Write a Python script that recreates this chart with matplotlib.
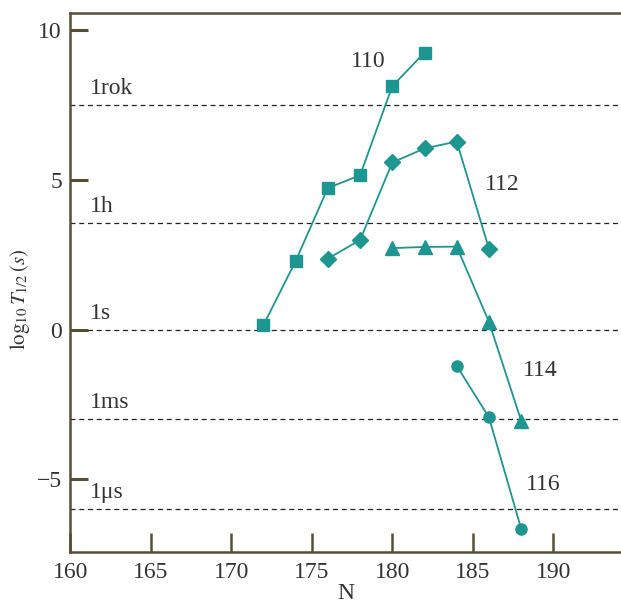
import matplotlib
matplotlib.use("Agg")
from matplotlib import pyplot as plt

# half-lives of superheavy isotopes, log10(T1/2 / s) vs neutron number N
n_110 = [172, 174, 176, 178, 180, 182]
t_110 = [0.15, 2.29, 4.73, 5.15, 8.13, 9.25]

n_112 = [176, 178, 180, 182, 184, 186]
t_112 = [2.37, 2.99, 5.58, 6.05, 6.28, 2.70]

n_114 = [180, 182, 184, 186, 188]
t_114 = [2.72, 2.76, 2.77, 0.26, -3.04]

n_116 = [184, 186, 188]
t_116 = [-1.21, -2.93, -6.65]

# reference times: 1 year, 1 hour, 1 s, 1 ms, 1 us
ref_names = ["1rok", "1h", "1s", "1ms", "1\u03bcs"]
ref_values = [7.50, 3.56, 0.0, -3.0, -6.0]

teal = "#1d9590"
spine = "#574e36"
ink = "#333333"

plt.rcParams["font.family"] = ["Liberation Serif", "DejaVu Serif"]
plt.rcParams["mathtext.fontset"] = "stix"

fig = plt.figure(figsize=(6.21, 6.08), dpi=100)
ax = fig.add_axes([0.113, 0.092, 0.887, 0.886])

for name, val in zip(ref_names, ref_values):
    ax.axhline(val, color="#222222", lw=0.9, ls=(0, (4, 3)), zorder=1)
    ax.text(161.2, val + 0.2, name, fontsize=17, color=ink, va="bottom", ha="left")

ax.plot(n_110, t_110, "-s", color=teal, ms=9, lw=1.3, zorder=3)
ax.plot(n_112, t_112, "-D", color=teal, ms=8, lw=1.3, zorder=3)
ax.plot(n_114, t_114, "-^", color=teal, ms=10, lw=1.3, zorder=3)
ax.plot(n_116, t_116, "-o", color=teal, ms=8, lw=1.3, zorder=3)

ax.text(178.5, 8.95, "110", fontsize=17, color=ink, ha="center", va="center")
ax.text(186.8, 4.86, "112", fontsize=17, color=ink, ha="center", va="center")
ax.text(189.2, -1.35, "114", fontsize=17, color=ink, ha="center", va="center")
ax.text(189.35, -5.19, "116", fontsize=17, color=ink, ha="center", va="center")

ax.set_xlim(160, 194.2)
ax.set_ylim(-7.43, 10.56)
ax.set_xticks([160, 165, 170, 175, 180, 185, 190])
ax.set_yticks([-5, 0, 5, 10])
ax.set_yticklabels(["\u22125", "0", "5", "10"])

ax.spines["right"].set_visible(False)
for s in ["left", "top", "bottom"]:
    ax.spines[s].set_color(spine)
    ax.spines[s].set_linewidth(1.8)

ax.tick_params(axis="y", direction="in", length=13, width=2.2, color=spine,
               labelsize=17, labelcolor=ink, pad=6)
ax.tick_params(axis="x", direction="in", length=14, width=1.8, color=spine,
               labelsize=17, labelcolor=ink, pad=7)

ax.set_xlabel("N", fontsize=17, color=ink, labelpad=0)
ax.set_ylabel(r"$\mathrm{log}_{10}\,T_{1/2}\,(s)$", fontsize=15, color=ink)
ax.yaxis.set_label_coords(-0.07, 0.47)

fig.savefig("out.png", dpi=100)
